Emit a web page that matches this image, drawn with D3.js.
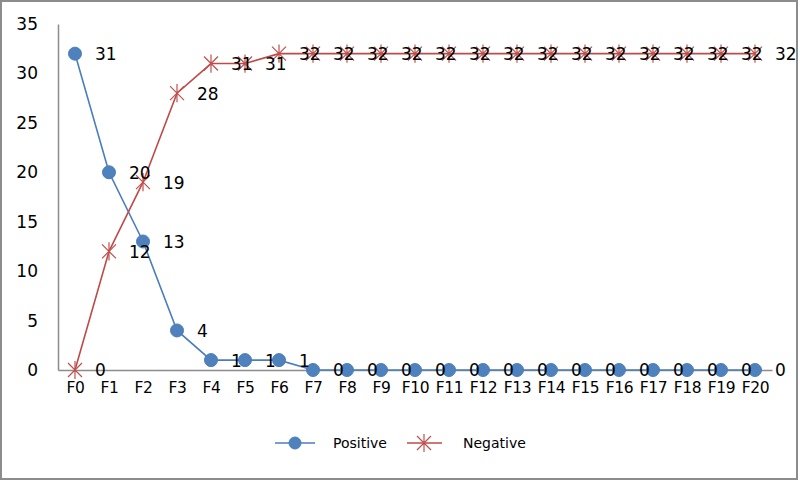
<!DOCTYPE html>
<html>
<head>
<meta charset="utf-8">
<script src="https://cdn.jsdelivr.net/npm/d3@7"></script>
<style>
  body { margin: 0; background: #fff; }
  svg text { font-family: "DejaVu Sans", Verdana, sans-serif; fill: #000; }
</style>
</head>
<body>
<div id="chart"></div>
<script>
// chart data
var categories = ["F0","F1","F2","F3","F4","F5","F6","F7","F8","F9","F10",
  "F11","F12","F13","F14","F15","F16","F17","F18","F19","F20"];
var positive = [32,20,13,4,1,1,1,0,0,0,0,0,0,0,0,0,0,0,0,0,0];
// the printed labels (first one reads 31 in the original)
var positiveLabels = [31,20,13,4,1,1,1,0,0,0,0,0,0,0,0,0,0,0,0,0,0];
var negative = [0,12,19,28,31,31,32,32,32,32,32,32,32,32,32,32,32,32,32,32,32];
var yTicks = [0,5,10,15,20,25,30,35];

var svgWidth = 800;
var svgHeight = 481;

var margin = { top: 24, right: 28, bottom: 111, left: 58 };
var width = svgWidth - margin.left - margin.right;
var height = svgHeight - margin.top - margin.bottom;

var blueLine = "#4A7EBB", blueFill = "#4F81BD";
var redLine = "#BE4B48", redMark = "#C0504D";
var fontSize = 17;

var svg = d3.select("#chart")
  .append("svg")
  .attr("width", svgWidth)
  .attr("height", svgHeight);

// outer frame
svg.append("rect")
  .attr("x", 1).attr("y", 1)
  .attr("width", svgWidth - 4).attr("height", svgHeight - 3)
  .attr("fill", "none")
  .attr("stroke", "#8c8c8c")
  .attr("stroke-width", 2);

var chartGroup = svg.append("g")
  .attr("transform", `translate(${margin.left}, ${margin.top})`);

var x = d3.scalePoint()
  .domain(categories)
  .range([0, width])
  .padding(0.5);

var y = d3.scaleLinear()
  .domain([0, 35])
  .range([height, 0]);

// y axis
var leftAxis = d3.axisLeft(y).tickValues(yTicks).tickSize(0).tickPadding(20);
var yAxis = chartGroup.append("g").call(leftAxis);
yAxis.select(".domain").attr("stroke", "#8c8c8c").attr("stroke-width", 1.5);
yAxis.selectAll("text").attr("font-size", fontSize);

// x axis (labels packed tight, as in the original)
var bottomAxis = d3.axisBottom(x).tickSize(0).tickPadding(12);
var xAxis = chartGroup.append("g")
  .attr("transform", `translate(0, ${height})`)
  .call(bottomAxis);
xAxis.select(".domain").attr("stroke", "#8c8c8c").attr("stroke-width", 1.5);
xAxis.selectAll("text").attr("font-size", 15.5).attr("letter-spacing", -0.4);

// star marker path (X plus vertical bar)
function starPath(s) {
  return `M${-s},${-s}L${s},${s}M${-s},${s}L${s},${-s}M0,${-s * 1.3}L0,${s * 1.3}`;
}

var seriesLine = d3.line()
  .x((d, i) => x(categories[i]))
  .y(d => y(d));

// positive series
chartGroup.append("path")
  .datum(positive)
  .attr("d", seriesLine)
  .attr("fill", "none")
  .attr("stroke", blueLine)
  .attr("stroke-width", 1.6);

chartGroup.append("g")
  .selectAll("circle")
  .data(positive)
  .enter().append("circle")
  .attr("cx", (d, i) => x(categories[i]))
  .attr("cy", d => y(d))
  .attr("r", 6.5)
  .attr("fill", blueFill)
  .attr("stroke", blueLine)
  .attr("stroke-width", 1);

// negative series
chartGroup.append("path")
  .datum(negative)
  .attr("d", seriesLine)
  .attr("fill", "none")
  .attr("stroke", redLine)
  .attr("stroke-width", 1.6);

chartGroup.append("g")
  .selectAll("path")
  .data(negative)
  .enter().append("path")
  .attr("transform", (d, i) => `translate(${x(categories[i])}, ${y(d)})`)
  .attr("d", starPath(7))
  .attr("fill", "none")
  .attr("stroke", redMark)
  .attr("stroke-width", 1.2);

// data labels, right of each point
chartGroup.append("g")
  .selectAll("text")
  .data(positive)
  .enter().append("text")
  .attr("x", (d, i) => x(categories[i]) + 20)
  .attr("y", d => y(d))
  .attr("dy", "0.38em")
  .attr("font-size", fontSize)
  .text((d, i) => positiveLabels[i]);

chartGroup.append("g")
  .selectAll("text")
  .data(negative)
  .enter().append("text")
  .attr("x", (d, i) => x(categories[i]) + 20)
  .attr("y", d => y(d))
  .attr("dy", "0.38em")
  .attr("font-size", fontSize)
  .text(d => d);

// legend
var legend = svg.append("g")
  .attr("transform", "translate(0, 443)");

legend.append("line")
  .attr("x1", 275).attr("x2", 315)
  .attr("stroke", blueLine).attr("stroke-width", 1.6);
legend.append("circle")
  .attr("cx", 295).attr("r", 6)
  .attr("fill", blueFill).attr("stroke", blueLine);
legend.append("text")
  .attr("x", 333).attr("dy", "0.36em")
  .attr("font-size", 14)
  .text("Positive");

legend.append("line")
  .attr("x1", 407).attr("x2", 442)
  .attr("stroke", redLine).attr("stroke-width", 1.6);
legend.append("path")
  .attr("transform", "translate(424, 0)")
  .attr("d", starPath(7))
  .attr("fill", "none").attr("stroke", redMark).attr("stroke-width", 1.2);
legend.append("text")
  .attr("x", 463).attr("dy", "0.36em")
  .attr("font-size", 14)
  .text("Negative");
</script>
</body>
</html>
